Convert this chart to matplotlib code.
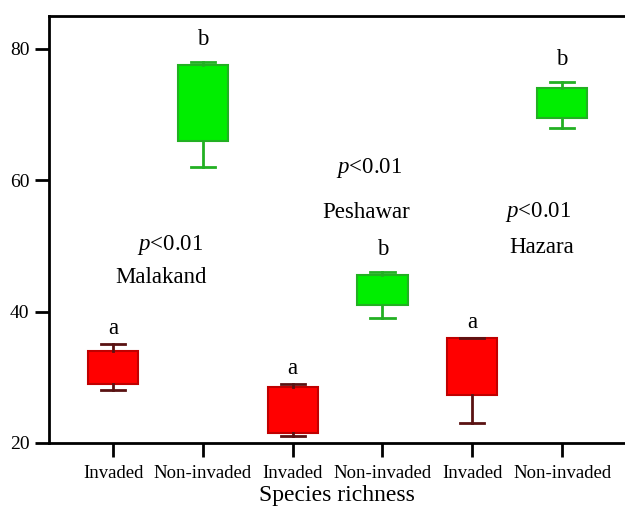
import matplotlib
matplotlib.use("Agg")
import matplotlib.pyplot as plt

# ---- data ----
groups = ["Invaded", "Non-invaded", "Invaded", "Non-invaded", "Invaded", "Non-invaded"]
whislo = [28, 62, 21, 39, 23, 68]
q1     = [29, 66, 21.5, 41, 27.3, 69.5]
q3     = [34, 77.5, 28.5, 45.5, 36, 74]
whishi = [35, 78, 29, 46, 36, 75]
letters = ["a", "b", "a", "b", "a", "b"]
regions = ["Malakand", "Peshawar", "Hazara"]
p_text = "<0.01"
yticks = [20, 40, 60, 80]
xlabel = "Species richness"

plt.rcParams['font.family'] = ['Liberation Serif', 'DejaVu Serif']
plt.rcParams['mathtext.fontset'] = 'custom'
plt.rcParams['mathtext.it'] = 'Liberation Serif:italic'
plt.rcParams['mathtext.rm'] = 'Liberation Serif'

fig = plt.figure(figsize=(6.25, 5.08), dpi=100)
ax = fig.add_axes([0.0784, 0.128, 0.9216, 0.8405])

positions = list(range(1, len(groups) + 1))
red_face, red_edge, red_wh = "#ff0000", "#c00000", "#5a1212"
grn_face, grn_edge, grn_wh = "#00ee00", "#22b022", "#22b022"

for i, pos in enumerate(positions):
    stats = [dict(whislo=whislo[i], q1=q1[i], med=q1[i], q3=q3[i], whishi=whishi[i], fliers=[])]
    inv = groups[i] == "Invaded"
    face, edge, wh = (red_face, red_edge, red_wh) if inv else (grn_face, grn_edge, grn_wh)
    ax.bxp(stats, positions=[pos], widths=0.56, patch_artist=True, showfliers=False,
           boxprops=dict(facecolor=face, edgecolor=edge, linewidth=1.5),
           whiskerprops=dict(color=wh, linewidth=2),
           capprops=dict(color=wh, linewidth=2),
           capwidths=0.27,
           medianprops=dict(visible=False),
           manage_ticks=False)
    offs = 2.4 if inv else 3.4
    ax.text(pos, whishi[i] + offs, letters[i], ha="center", va="center", fontsize=16.5)

# region annotations
p_pos = [(1.63, 50.1), (3.85, 61.8), (5.73, 55.1)]
r_pos = [(1.53, 45.2), (3.82, 55.1), (5.77, 49.8)]
for (px, py), (rx, ry), name in zip(p_pos, r_pos, regions):
    ax.text(px, py, r"$\mathit{p}$" + p_text, ha="center", va="center", fontsize=16.5)
    ax.text(rx, ry, name, ha="center", va="center", fontsize=16.5)

ax.set_xlim(0.287, 6.70)
ax.set_ylim(20, 85)
ax.set_xticks(positions)
ax.set_xticklabels(groups, fontsize=13.5)
ax.set_yticks(yticks)
ax.set_yticklabels([str(t) for t in yticks], fontsize=14)
ax.set_xlabel(xlabel, fontsize=17, labelpad=2)
ax.spines["right"].set_visible(False)
for s in ["left", "top", "bottom"]:
    ax.spines[s].set_linewidth(2)
ax.tick_params(axis="both", direction="out", width=2, length=10, pad=4)
ax.tick_params(axis="x", length=10, pad=6)

fig.savefig("out.png", dpi=100)
